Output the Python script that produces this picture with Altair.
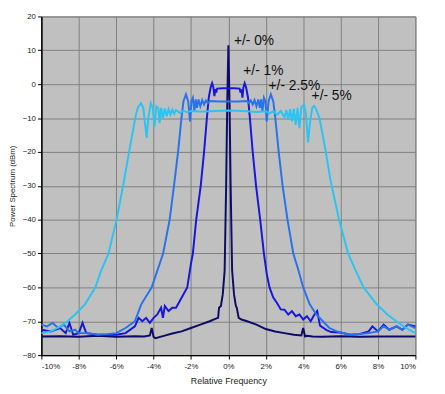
import altair as alt
import pandas as pd

# ---- data ----
x0 = [-10, -9, -8, -7, -6, -5, -4.5, -4.2, -4.1, -4.0, -3.9, -3.5, -3, -2.5, -2, -1.5, -1, -0.7, -0.55,
      -0.5, -0.4, -0.3, -0.2, -0.12, -0.06, 0, 0.06, 0.12, 0.2, 0.3, 0.4, 0.45, 0.55, 0.7, 1, 1.5, 2,
      2.5, 3, 3.5, 3.9, 4.0, 4.1, 4.2, 4.5, 5, 6, 7, 8, 9, 10]
y0 = [-74.5, -74.4, -74.6, -74.3, -74.6, -74.4, -74.5, -74.2, -72, -74.6, -75, -74.4, -73.6, -73, -72,
      -71, -70, -69.3, -69, -66, -65.5, -62, -55, -30, -5, 11.5, -5, -30, -55, -62, -65.5, -66, -69,
      -69.5, -70, -71, -72.3, -73, -73.5, -74, -74.2, -72, -74.5, -74.3, -74.5, -74.6, -74.4, -74.6,
      -74.5, -74.5, -74.5]

x1 = [-10, -9.5, -9, -8.7, -8.5, -8.3, -8, -7.8, -7.6, -7, -6.5, -6, -5.5, -5, -4.8, -4.6, -4.4, -4.2,
      -4, -3.8, -3.6, -3.5, -3.4, -3.2, -3.0, -2.8, -2.6, -2.4, -2.2, -2.0, -1.9, -1.72, -1.48, -1.3,
      -1.15, -1.05, -0.95, -0.87, -0.8, -0.75, -0.7, -0.65, -0.6, -0.3, 0, 0.3, 0.6, 0.65, 0.7, 0.75,
      0.8, 0.87, 0.95, 1.05, 1.15, 1.3, 1.48, 1.7, 1.9, 2.05, 2.2, 2.4, 2.6, 2.8, 3.0, 3.2, 3.4, 3.6,
      3.8, 4.0, 4.2, 4.4, 4.6, 4.75, 4.9, 5.25, 5.5, 6, 6.5, 7, 7.5, 7.7, 8, 8.3, 8.6, 9, 9.3, 9.6, 10]
y1 = [-72.5, -73, -72, -73.5, -70.5, -74, -73.5, -70.5, -73.5, -74, -74, -74, -73.5, -71.5, -69, -70,
      -69, -70.5, -69, -68, -66, -69, -65.5, -67, -66, -66, -64, -62, -60, -53, -50, -40, -30, -20, -10,
      -4, -1, 0.3, -1, -3.5, -1.5, -2.5, -1.3, -1.2, -1.2, -1.2, -1.3, -2.5, -1.5, -4, -1, 0.3, -1, -4,
      -10, -20, -30, -40, -50, -56, -60, -63, -64.6, -66.5, -66.6, -68, -67, -68.5, -68, -69.5, -68.5,
      -70, -68, -67, -71.3, -72.6, -73.2, -73.3, -74, -73.8, -73, -71.5, -73, -71, -72.5, -71.5, -72.5,
      -71, -71.5]

x2 = [-10, -9.7, -9.4, -9.1, -8.8, -8.5, -8.2, -8, -7.5, -7, -6.5, -6, -5.5, -5.0, -4.66, -4.1, -3.49,
      -3.14, -2.91, -2.69, -2.51, -2.4, -2.27, -2.15, -2.05, -1.98, -1.9, -1.82, -1.75, -1.68, -1.6,
      -1.5, -1.4, -1.3, -1.2, -1.1, -1.0, -0.5, 0, 0.5, 1.0, 1.1, 1.2, 1.3, 1.4, 1.5, 1.6, 1.68, 1.75,
      1.82, 1.9, 1.98, 2.05, 2.15, 2.27, 2.4, 2.51, 2.69, 2.9, 3.16, 3.47, 3.75, 4.0, 4.35, 4.7, 5.05,
      5.4, 5.8, 6.5, 7, 7.5, 8, 8.3, 8.6, 9, 9.3, 9.6, 10]
y2 = [-71, -71.5, -70.5, -72, -71, -73, -72.5, -73.5, -73.5, -74, -73.8, -73.5, -72, -70, -65, -60, -50,
      -40, -30, -20, -10, -5, -3, -5, -11, -5, -4, -8, -4.5, -7, -4.5, -6.5, -4.7, -6, -4.8, -5.6, -5,
      -5.1, -5.1, -5.1, -5, -5.6, -4.8, -6, -4.7, -6.5, -4.5, -7, -4.5, -8, -4, -5, -11, -5, -3, -5, -10,
      -20, -30, -40, -50, -55, -60, -65, -68, -70, -72, -73, -74, -73.8, -73.5, -73, -71.5, -72.5, -71.5,
      -72.5, -71, -72]

x3 = [-10, -9.5, -9.3, -9, -8.6, -8.2, -7.67, -7.11, -6.8, -6.41, -5.98, -5.63, -5.31, -4.98, -4.85,
      -4.68, -4.55, -4.45, -4.37, -4.28, -4.15, -4.05, -3.95, -3.85, -3.75, -3.68, -3.6, -3.5, -3.4,
      -3.3, -3.2, -3.1, -3.0, -2.9, -2.8, -2.6, -2.4, -2.2, -2.0, -1.5, -1, 0, 1, 1.5, 2.0, 2.2, 2.4,
      2.6, 2.8, 3.0, 3.1, 3.2, 3.3, 3.4, 3.5, 3.6, 3.7, 3.8, 3.9, 4.05, 4.15, 4.26, 4.35, 4.48, 4.58,
      4.7, 4.87, 5.2, 5.46, 5.92, 6.4, 6.8, 7.23, 7.93, 8.5, 8.98, 9.5, 10]
y3 = [-73.5, -73, -72.5, -71.5, -70, -68, -65, -60, -55, -50, -40, -30, -20, -10, -7, -5.6, -7, -12,
      -15.8, -10, -5.6, -7, -12.5, -6.5, -7, -11.5, -7, -10, -7.2, -9.5, -7.4, -9, -7.5, -8.7, -7.6, -8.5,
      -7.8, -8.3, -7.9, -8.1, -8.0, -7.8, -8.0, -8.2, -8.0, -8.6, -8.0, -9.0, -7.9, -9.8, -7.6, -10.5,
      -7.4, -11, -7.2, -12, -7.0, -13, -6.8, -6, -9, -17.2, -12, -7, -6.4, -7.5, -10, -19.7, -28.4, -40,
      -50, -55, -60, -65, -68, -70, -72, -73.5]

series_names = ["+/- 0%", "+/- 1%", "+/- 2.5%", "+/- 5%"]
series_colors = ["#0c0c66", "#1616dc", "#2a72ea", "#2ac4f2"]

label_x = [0.3, 0.8, 2.15, 4.45]
label_y = [12.6, 4.0, -0.6, -3.6]

x_ticks = list(range(-10, 11, 2))
y_ticks = list(range(-80, 21, 10))

rows = []
for name, xs, ys in zip(series_names, [x0, x1, x2, x3], [y0, y1, y2, y3]):
    for i, (a, b) in enumerate(zip(xs, ys)):
        rows.append({"series": name, "x": a, "y": b, "i": i})
df = pd.DataFrame(rows)
labels = pd.DataFrame({"label": series_names, "x": label_x, "y": label_y})

FONT = "Liberation Sans"

x_scale = alt.Scale(domain=[-10, 10], nice=False, zero=False)
y_scale = alt.Scale(domain=[-80, 20], nice=False, zero=False)

x_axis = alt.Axis(values=x_ticks, labelExpr="datum.value + '%'", labelOverlap=False, labelPadding=4,
                  title="Relative Frequency", titleFontSize=9, titleFontWeight="normal",
                  titlePadding=6)
y_axis = alt.Axis(values=y_ticks, labelOverlap=False, title="Power Spectrum (dBm)",
                  titleFontSize=8, titleFontWeight="normal", titlePadding=6)

lines = alt.Chart(df).mark_line(strokeWidth=2, interpolate="linear").encode(
    x=alt.X("x:Q", scale=x_scale, axis=x_axis),
    y=alt.Y("y:Q", scale=y_scale, axis=y_axis),
    color=alt.Color("series:N", scale=alt.Scale(domain=series_names, range=series_colors), legend=None),
    order=alt.Order("i:Q"),
)

texts = alt.Chart(labels).mark_text(align="left", baseline="middle", fontSize=14, font=FONT,
                                    color="#111111").encode(
    x=alt.X("x:Q", scale=x_scale, axis=x_axis),
    y=alt.Y("y:Q", scale=y_scale, axis=y_axis),
    text="label:N",
)

chart = alt.layer(lines, texts).properties(
    width=381, height=345,
    autosize=alt.AutoSizeParams(type="none"),
    padding={"left": 34, "top": 5, "right": 22, "bottom": 36},
    background="white",
).configure_view(
    fill="#c0c0c0", stroke="#808080", strokeWidth=1
).configure_axis(
    gridColor="#808080", gridWidth=1, gridOpacity=1,
    domainColor="#000000", domainWidth=1.5,
    tickColor="#000000", tickSize=4, tickWidth=1,
    labelFont=FONT, labelFontSize=8, labelColor="#222222", labelPadding=2,
    titleFont=FONT, titleColor="#222222",
)

chart.save("out.html", embed_options={"renderer": "svg", "actions": False})
